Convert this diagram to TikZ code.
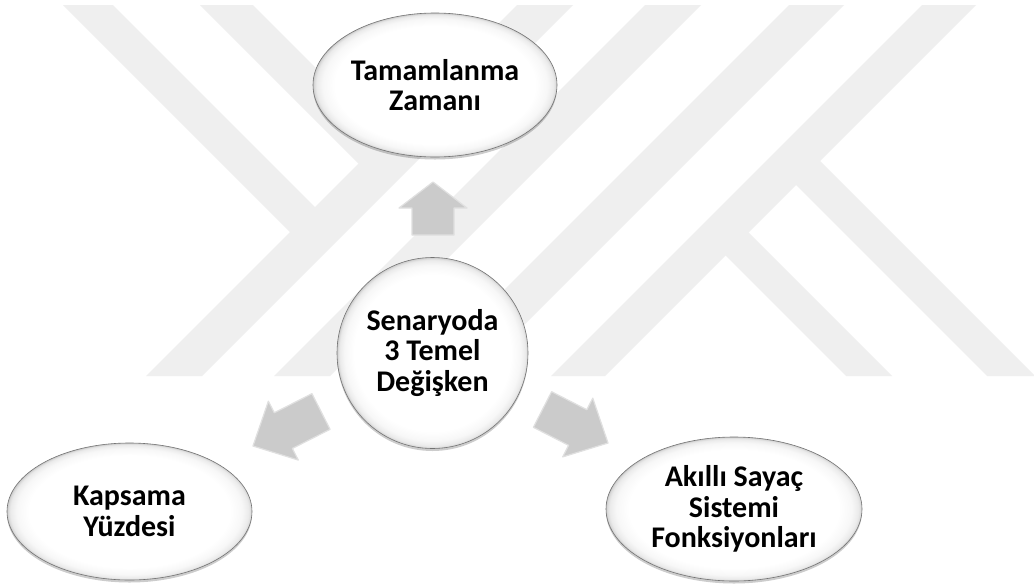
\documentclass[tikz,border=0pt]{standalone}
\usepackage{fontspec}
\setmainfont{Carlito}
\usetikzlibrary{shapes.geometric,calc}
\definecolor{wm}{RGB}{239,239,239}
\definecolor{arrfill}{RGB}{203,203,203}
\definecolor{arredge}{RGB}{224,224,224}
\definecolor{rimline}{RGB}{115,115,115}
\pgfdeclareradialshading{bubble}{\pgfpoint{0bp}{0bp}}{color(0bp)=(white); color(20.5bp)=(white); color(23bp)=(black!3); color(24.3bp)=(black!8); color(24.8bp)=(black!15); color(25bp)=(black!22); color(50bp)=(black!22)}
\newcommand\blockarr[5]{%
  \coordinate (#1neck) at ($(#2)!#3!(#1)$);
  \filldraw[arrowbody]
    ($(#1)!#4!90:(#2)$) -- ($(#1neck)!#4!-90:(#1)$) -- ($(#1neck)!#5!-90:(#1)$) -- (#2)
    -- ($(#1neck)!#5!90:(#1)$) -- ($(#1neck)!#4!90:(#1)$) -- ($(#1)!#4!-90:(#2)$) -- cycle;}
\begin{document}
\begin{tikzpicture}[x=1pt,y=-1pt,
  wmark/.style={fill=wm},
  arrowbody/.style={fill=arrfill, draw=arredge, line width=1.2pt, line join=round},
  bubble/.style={ellipse, inner sep=0pt, shading=bubble, draw=rimline, line width=0.6pt,
    align=center, text=black, font=\bfseries\fontsize{30}{30.5}\selectfont,
    preaction={fill=black, opacity=0.2, transform canvas={yshift=-2.5pt}}}]
\useasboundingbox[fill=white] (0,0) rectangle (1034,587);
% watermark
\fill[wmark] (517,5) -- (573,5) -- (202,376) -- (146,376) -- cycle;
\fill[wmark] (645,5) -- (701,5) -- (330,376) -- (274,376) -- cycle;
\fill[wmark] (789,5) -- (844,5) -- (473,376) -- (418,376) -- cycle;
\fill[wmark] (922,5) -- (976,5) -- (605,376) -- (551,376) -- cycle;
\fill[wmark] (63,5) -- (113,5) -- (329,221) -- (304,246) -- cycle;
\fill[wmark] (200,5) -- (253,5) -- (399,151) -- (372.5,177.5) -- cycle;
\fill[wmark] (712,242) -- (735,219) -- (892,376) -- (846,376) -- cycle;
\fill[wmark] (782.5,171.5) -- (806.5,147.5) -- (1034,375) -- (1034,376) -- (987,376) -- cycle;
% nodes
\node[bubble, minimum width=244pt, minimum height=144pt] (T) at (435,85) {Tamamlanma\\Zamanı};
\node[bubble, minimum width=191pt, minimum height=191pt] (C) at (432.5,353) {Senaryoda\\3 Temel\\Değişken};
\node[bubble, minimum width=245pt, minimum height=137pt] (L) at (129.5,511.5) {Kapsama\\Yüzdesi};
\node[bubble, minimum width=256pt, minimum height=144pt] (R) at (734,509) {Akıllı Sayaç\\Sistemi\\Fonksiyonları};
% arrows
\coordinate (aT) at (433,235); \coordinate (aTtip) at (433,182);
\coordinate (aR) at (542.5,409.5); \coordinate (aRtip) at (608,443);
\coordinate (aL) at (321,411.5); \coordinate (aLtip) at (253,446);
\blockarr{aT}{aTtip}{26pt}{21pt}{34pt}
\blockarr{aR}{aRtip}{34pt}{20pt}{33pt}
\blockarr{aL}{aLtip}{34pt}{20pt}{33pt}
\end{tikzpicture}
\end{document}
